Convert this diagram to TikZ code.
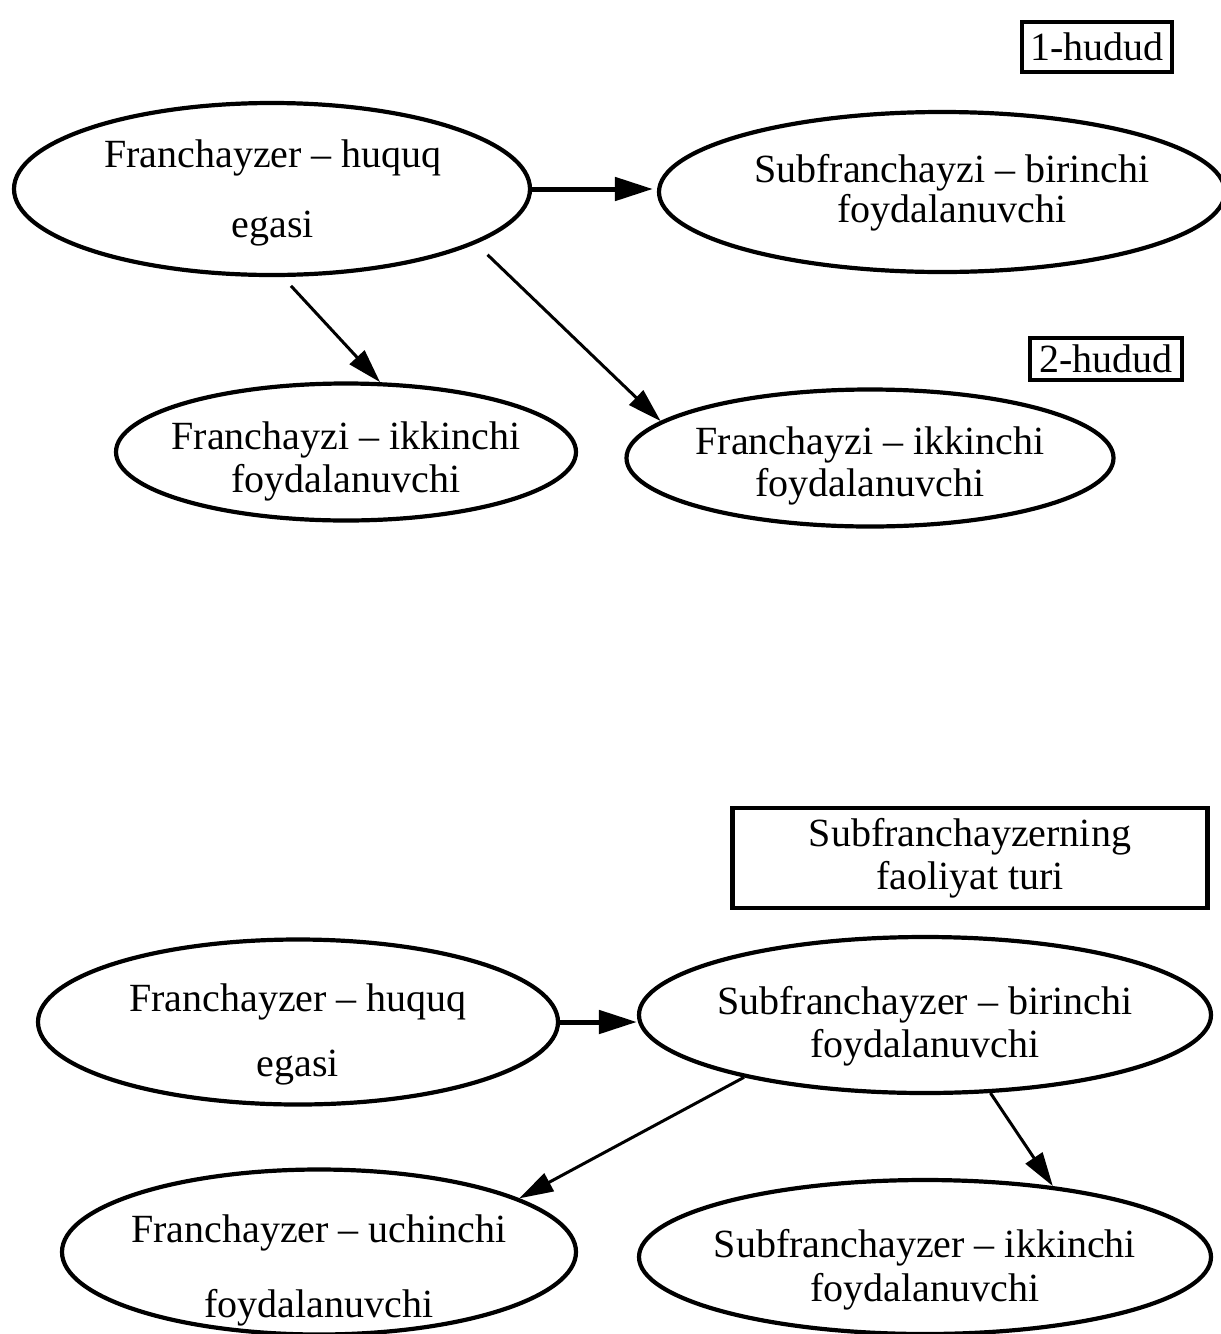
\documentclass[tikz,border=0pt]{standalone}
\usepackage{fontspec}
\setmainfont{Liberation Serif}
\usetikzlibrary{shapes.geometric,arrows.meta}

\begin{document}
\begin{tikzpicture}[x=0.5pt,y=-0.5pt,
  oval/.style={draw, ellipse, line width=2.1pt, inner sep=0pt},
  txt/.style={align=center, inner sep=0pt, font=\fontsize{20}{#1}\selectfont},
  tag/.style={draw, line width=2.1pt, inner sep=0pt, align=center,
    font=\fontsize{20}{21.5}\selectfont},
  link/.style={line width=1.5pt, -{Triangle[length=17pt,width=10pt]}},
  bold link/.style={line width=2.5pt, -{Triangle[length=19pt,width=11.5pt]}}]

\useasboundingbox (0,0) rectangle (1221,1334);
\clip (0,0) rectangle (1221,1334);

% ---------- first scheme: two territories ----------
\node[tag, minimum width=75pt, minimum height=25pt] (zone1) at (1097,47) {1-hudud};
\node[tag, minimum width=76pt, minimum height=21pt] (zone2) at (1106,359) {2-hudud};

\node[oval, minimum width=258pt, minimum height=86pt] (fzA) at (272,189) {};
\node[txt=35] (fzAt) at (273,193) {Franchayzer – huquq\\egasi};

\node[oval, minimum width=283pt, minimum height=80pt] (sfA) at (942,192) {};
\node[txt=20] (sfAt) at (952,193) {Subfranchayzi – birinchi\\foydalanuvchi};

\node[oval, minimum width=230pt, minimum height=68.5pt] (fziL) at (346,452) {};
\node[txt=21.5] (fziLt) at (346,461) {Franchayzi – ikkinchi\\foydalanuvchi};

\node[oval, minimum width=243.5pt, minimum height=68.5pt] (fziR) at (870,458) {};
\node[txt=21] (fziRt) at (870,466) {Franchayzi – ikkinchi\\foydalanuvchi};

\draw[bold link, shorten >=2pt] (fzA.east) -- (fzA.east -| sfA.west);
\draw[link, shorten <=6pt] (fzA.-83) -- (fziL.64);
\draw[link, shorten <=8pt] (fzA.-15) -- (fziR.170);

% ---------- second scheme: sub-franchising ----------
\node[tag, minimum width=237.5pt, minimum height=50pt] (kind) at (970,858)
  {Subfranchayzerning\\faoliyat turi};

\node[oval, minimum width=260pt, minimum height=82.5pt] (fzB) at (298,1022) {};
\node[txt=32.5] (fzBt) at (298,1034) {Franchayzer – huquq\\egasi};

\node[oval, minimum width=286pt, minimum height=78pt] (sfB) at (925,1015) {};
\node[txt=21.5] (sfBt) at (925,1026) {Subfranchayzer – birinchi\\foydalanuvchi};

\node[oval, minimum width=257pt, minimum height=82.5pt] (fzU) at (319,1252) {};
\node[txt=37.5] (fzUt) at (319,1270) {Franchayzer – uchinchi\\foydalanuvchi};

\node[oval, minimum width=286pt, minimum height=77pt] (sfI) at (925,1257) {};
\node[txt=22] (sfIt) at (925,1270) {Subfranchayzer – ikkinchi\\foydalanuvchi};

\draw[bold link] (fzB.east) -- (fzB.east -| sfB.west);
\draw[link] (sfB.-161) -- (fzU.15);
\draw[link] (sfB.-50) -- (sfI.29);
\end{tikzpicture}
\end{document}
